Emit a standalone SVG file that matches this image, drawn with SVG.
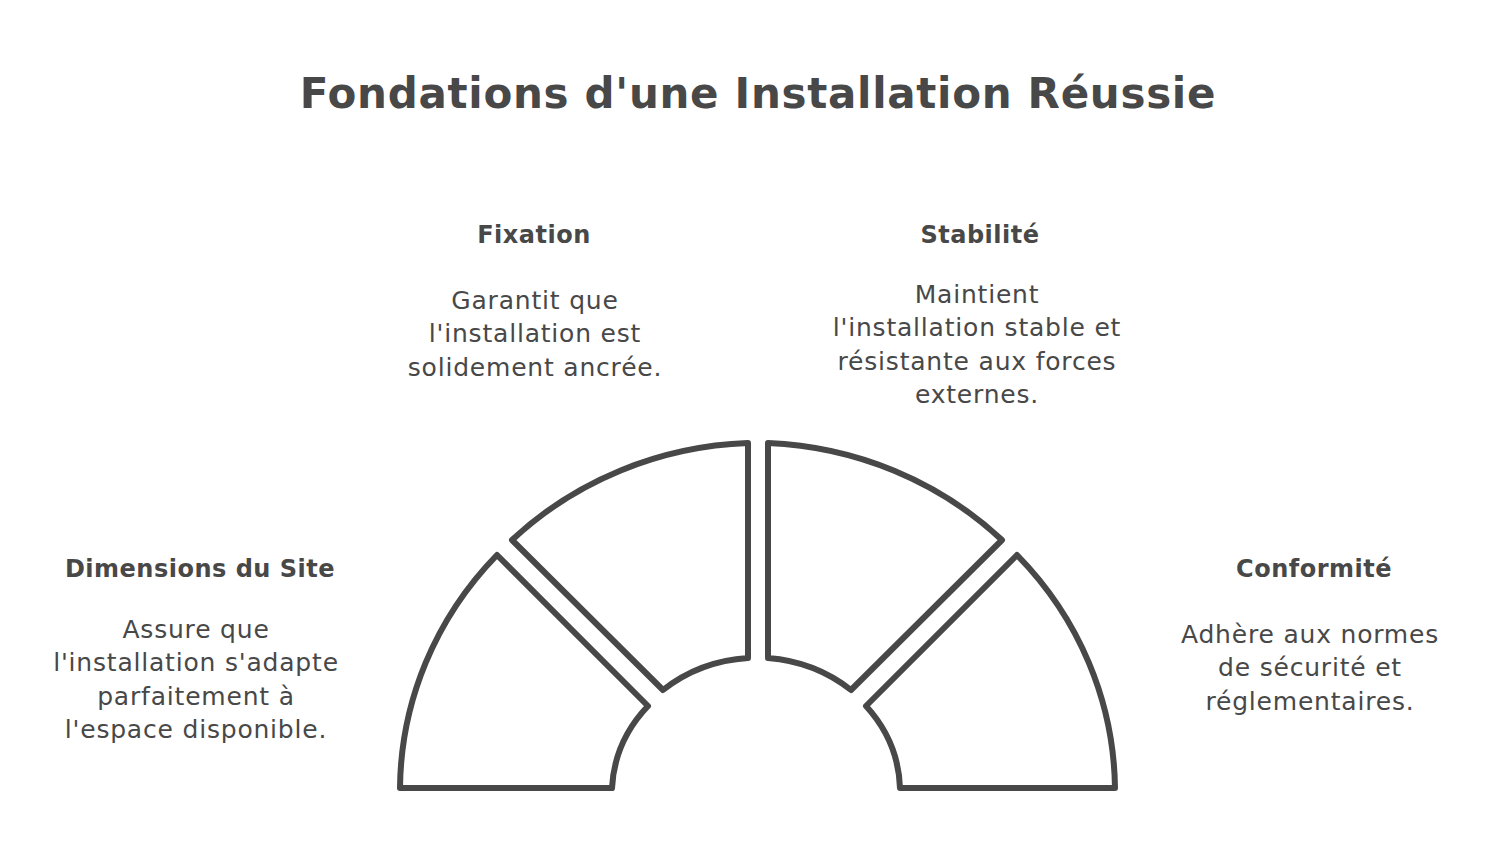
<svg xmlns="http://www.w3.org/2000/svg" width="1500" height="844" viewBox="0 0 1500 844">
<style>
.bg{fill:#ffffff}
.sector{fill:#ffffff;stroke:#484848;stroke-width:6;stroke-linejoin:round;stroke-linecap:round}
text{font-family:"DejaVu Sans","Liberation Sans",sans-serif;fill:#484848;text-anchor:middle}
.title{font-size:42px;font-weight:bold;letter-spacing:0.7px}
.head{font-size:24px;font-weight:bold;letter-spacing:0.5px}
.desc{font-size:25px;letter-spacing:0.8px}
</style>
<rect class="bg" x="0" y="0" width="1500" height="844"/>
<text class="title" x="758" y="108">Fondations d'une Installation Réussie</text>
<g id="dimensions">
<path class="sector" d="M400,788 L612,788 A146,134 0 0 1 648,706 L497,555 A358,345 0 0 0 400,788 Z"/>
<text class="head" x="200" y="577">Dimensions du Site</text>
<text class="desc" x="196" y="638">Assure que</text>
<text class="desc" x="196" y="671">l'installation s'adapte</text>
<text class="desc" x="196" y="705">parfaitement à</text>
<text class="desc" x="196" y="738">l'espace disponible.</text>
</g>
<g id="fixation">
<path class="sector" d="M512,540 L663,690 A146,134 0 0 1 748,658 L748,443 A358,345 0 0 0 512,540 Z"/>
<text class="head" x="534" y="243">Fixation</text>
<text class="desc" x="535" y="309">Garantit que</text>
<text class="desc" x="535" y="342">l'installation est</text>
<text class="desc" x="535" y="376">solidement ancrée.</text>
</g>
<g id="stabilite">
<path class="sector" d="M768,443 L768,658 A146,134 0 0 1 851,690 L1002,540 A358,345 0 0 0 768,443 Z"/>
<text class="head" x="980" y="243">Stabilité</text>
<text class="desc" x="977" y="303">Maintient</text>
<text class="desc" x="977" y="336">l'installation stable et</text>
<text class="desc" x="977" y="370">résistante aux forces</text>
<text class="desc" x="977" y="403">externes.</text>
</g>
<g id="conformite">
<path class="sector" d="M1017,555 L866,706 A146,134 0 0 1 900,788 L1115,788 A358,345 0 0 0 1017,555 Z"/>
<text class="head" x="1314" y="577">Conformité</text>
<text class="desc" x="1310" y="643">Adhère aux normes</text>
<text class="desc" x="1310" y="676">de sécurité et</text>
<text class="desc" x="1310" y="710">réglementaires.</text>
</g>
<g id="connectors"></g>
</svg>
